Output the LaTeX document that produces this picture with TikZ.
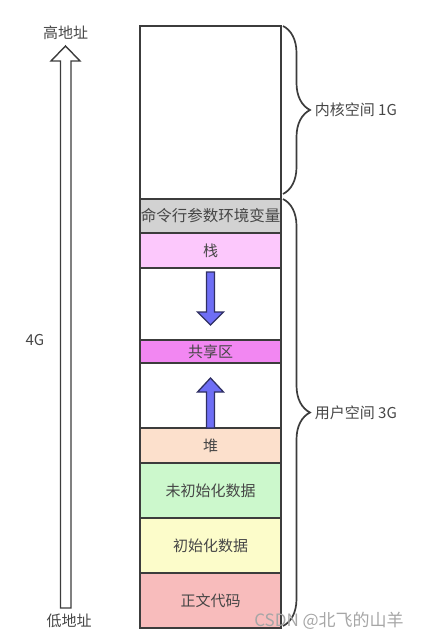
\documentclass[tikz,border=0pt]{standalone}
\usepackage{fontspec}
\setmainfont{Noto Sans CJK SC}
\usetikzlibrary{positioning, arrows.meta, decorations.pathreplacing}
\definecolor{edgegray}{RGB}{60, 60, 60}
\definecolor{txtgray}{RGB}{70, 70, 70}
\definecolor{cmdgray}{RGB}{210, 210, 210}
\definecolor{stackpink}{RGB}{252, 200, 252}
\definecolor{sharedpink}{RGB}{242, 135, 242}
\definecolor{heappeach}{RGB}{252, 224, 204}
\definecolor{bssgreen}{RGB}{204, 248, 204}
\definecolor{datayellow}{RGB}{252, 252, 202}
\definecolor{textred}{RGB}{248, 188, 188}
\definecolor{arrowblue}{RGB}{110, 110, 245}

\begin{document}
\begin{tikzpicture}[x=1pt, y=-1pt,
                seg/.style={draw=edgegray, line width=1.7pt, minimum width=141pt,
                    inner sep=0pt, outer sep=0pt, text=txtgray,
                    font=\fontsize{15}{17}\selectfont},
                lbl/.style={text=txtgray, inner sep=0pt,
                    font=\fontsize{15}{17}\selectfont},
                brc/.style={decorate, decoration={brace, amplitude=27pt},
                    draw=edgegray, line width=1.7pt},
                blockarrow/.style={draw=edgegray!80!blue, line width=1.3pt,
                    fill=arrowblue, line join=miter}
            ]
            \useasboundingbox (0,0) rectangle (431,644);

            % Memory column, top to bottom
            \node[seg, minimum height=173pt, anchor=north] (kernel) at (210.5,26) {};
            \node[seg, minimum height=34pt, fill=cmdgray, below=0pt of kernel] (cmd)
                {\fontsize{15.5}{17}\selectfont 命令行参数环境变量};
            \node[seg, minimum height=35pt, fill=stackpink, below=0pt of cmd] (stack) {栈};
            \node[seg, minimum height=72pt, below=0pt of stack] (gapa) {};
            \node[seg, minimum height=23pt, fill=sharedpink, below=0pt of gapa] (shared) {共享区};
            \node[seg, minimum height=65pt, below=0pt of shared] (gapb) {};
            \node[seg, minimum height=35pt, fill=heappeach, below=0pt of gapb] (heap) {堆};
            \node[seg, minimum height=55pt, fill=bssgreen, below=0pt of heap] (bss) {未初始化数据};
            \node[seg, minimum height=55pt, fill=datayellow, below=0pt of bss] (data) {初始化数据};
            \node[seg, minimum height=55pt, fill=textred, below=0pt of data] (text) {正文代码};

            % Stack grows down, heap grows up
            \coordinate (downtop) at ([yshift=-4pt]stack.south);
            \draw[blockarrow] (downtop) ++(-4,0) -- ++(0,40) -- ++(-9,0)
                -- ++(13,13) -- ++(13,-13) -- ++(-9,0) -- ++(0,-40) -- cycle;
            \coordinate (upbase) at (heap.north);
            \draw[blockarrow] (upbase) ++(-4,0) -- ++(0,-36) -- ++(-9,0)
                -- ++(13,-14) -- ++(13,14) -- ++(-9,0) -- ++(0,36) -- cycle;

            % Braces
            \draw[brc] ([xshift=2pt]kernel.north east) -- ([xshift=2pt, yshift=5pt]kernel.south east)
                node[midway, right=31pt, lbl] (kspace) {内核空间 1G};
            \draw[brc] ([xshift=2pt]cmd.north east) -- ([xshift=2pt, yshift=2pt]text.south east)
                node[midway, right=31pt, lbl] (uspace) {用户空间 3G};

            % Address axis
            \node[lbl] (high) at (65.5,33) {高地址};
            \node[lbl] (low) at (69,621) {低地址};
            \node[lbl] (total) at (35,340) {4G};
            \draw[draw=edgegray, line width=1.4pt, line join=miter]
                (60.5,608) -- (60.5,61) -- (51,61) -- (65.5,46) -- (80,61)
                -- (71,61) -- (71,608) -- cycle;

            % Watermark
            \node[text=gray!70, inner sep=0pt, font=\fontsize{17}{19}\selectfont]
                (mark) at (329,621) {CSDN @北飞的山羊};
\end{tikzpicture}
\end{document}
